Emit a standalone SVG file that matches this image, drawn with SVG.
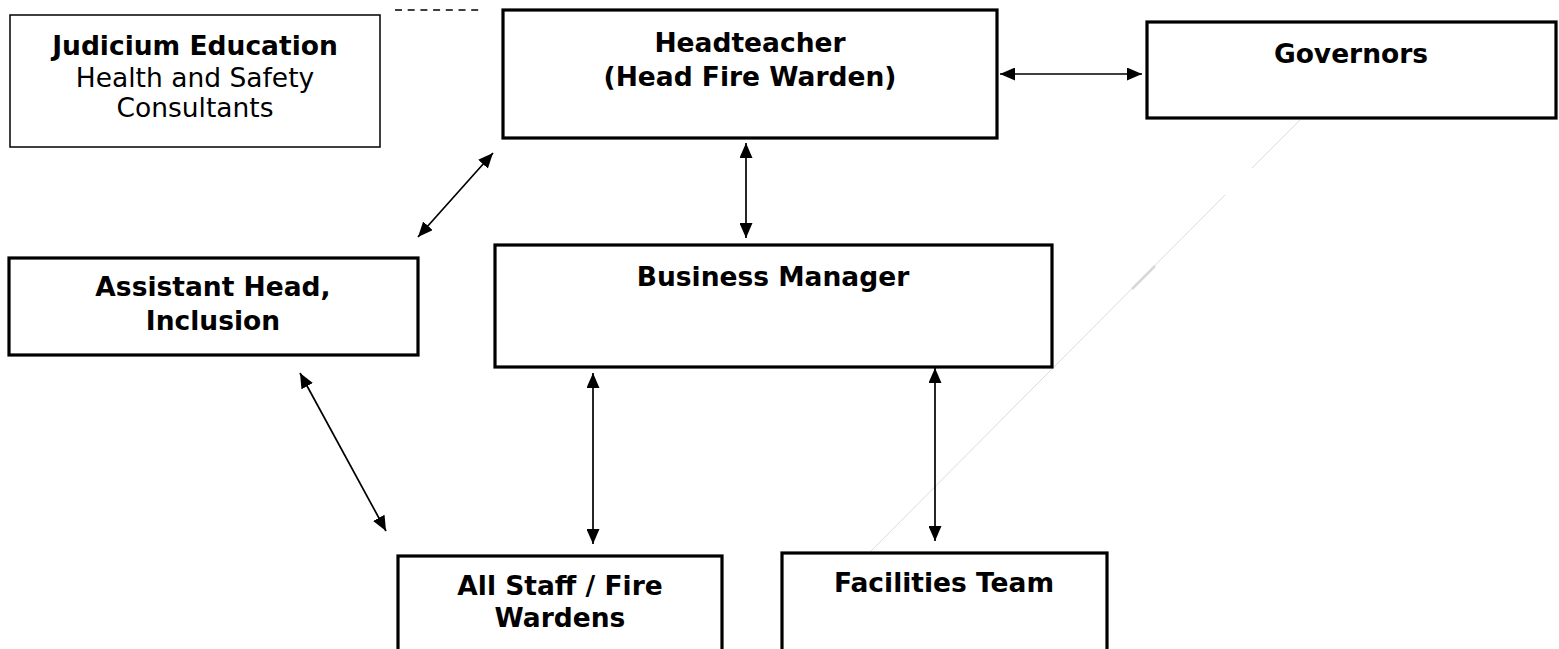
<svg xmlns="http://www.w3.org/2000/svg" width="1559" height="649" viewBox="0 0 1559 649">
<style>
.box{fill:#fff;stroke:#000;stroke-width:3.2}
.thin{fill:#fff;stroke:#000;stroke-width:1.5}
.b{font-family:"DejaVu Sans",Verdana,sans-serif;font-weight:bold;font-size:26.5px;fill:#000;text-anchor:middle}
.r{font-family:"DejaVu Sans",Verdana,sans-serif;font-size:26.5px;fill:#000;text-anchor:middle}
.c{stroke:#000;stroke-width:1.7;fill:none;marker-start:url(#ah);marker-end:url(#ah)}
.faint{stroke:#dcdcdc;stroke-width:1;fill:none}
</style>
<defs>
<marker id="ah" markerUnits="userSpaceOnUse" markerWidth="15" markerHeight="13" refX="15" refY="6.5" orient="auto-start-reverse">
<path d="M0,0 L15,6.5 L0,13 z" fill="#000"/>
</marker>
</defs>
<rect width="1559" height="649" fill="#fff"/>
<g id="faint-line">
<line class="faint" x1="1300" y1="120" x2="1252" y2="168"/>
<line class="faint" x1="1225" y1="195" x2="870" y2="552"/>
<line x1="1155" y1="266" x2="1132" y2="289" stroke="#d8d8d8" stroke-width="2.5"/>
</g>
<g id="judicium">
<rect class="thin" x="10" y="15" width="370" height="132"/>
<text class="b" x="195" y="55">Judicium Education</text>
<text class="r" x="195" y="87">Health and Safety</text>
<text class="r" x="195" y="117">Consultants</text>
</g>
<g id="headteacher">
<rect class="box" x="503" y="10" width="494" height="128"/>
<text class="b" x="750" y="52">Headteacher</text>
<text class="b" x="750" y="86">(Head Fire Warden)</text>
</g>
<g id="governors">
<rect class="box" x="1147" y="22" width="409" height="96"/>
<text class="b" x="1351" y="63">Governors</text>
</g>
<g id="assistant-head">
<rect class="box" x="9" y="258" width="409" height="97"/>
<text class="b" x="213" y="296">Assistant Head,</text>
<text class="b" x="213" y="330">Inclusion</text>
</g>
<g id="business-manager">
<rect class="box" x="495" y="245" width="557" height="122"/>
<text class="b" x="773" y="286">Business Manager</text>
</g>
<g id="all-staff">
<rect class="box" x="398" y="556" width="324" height="120"/>
<text class="b" x="560" y="595">All Staff / Fire</text>
<text class="b" x="560" y="627">Wardens</text>
</g>
<g id="facilities">
<rect class="box" x="782" y="553" width="325" height="120"/>
<text class="b" x="944" y="592">Facilities Team</text>
</g>
<g id="connectors">
<line x1="395" y1="10" x2="480" y2="10" stroke="#000" stroke-width="1.5" stroke-dasharray="7 5.7"/>
<line class="c" x1="1000" y1="74" x2="1142" y2="74"/>
<line class="c" x1="746" y1="143" x2="746" y2="238"/>
<line class="c" x1="418" y1="237" x2="493" y2="153"/>
<line class="c" x1="300" y1="373" x2="386" y2="531"/>
<line class="c" x1="593" y1="373" x2="593" y2="544"/>
<line class="c" x1="935" y1="368" x2="935" y2="541"/>
</g>
</svg>
